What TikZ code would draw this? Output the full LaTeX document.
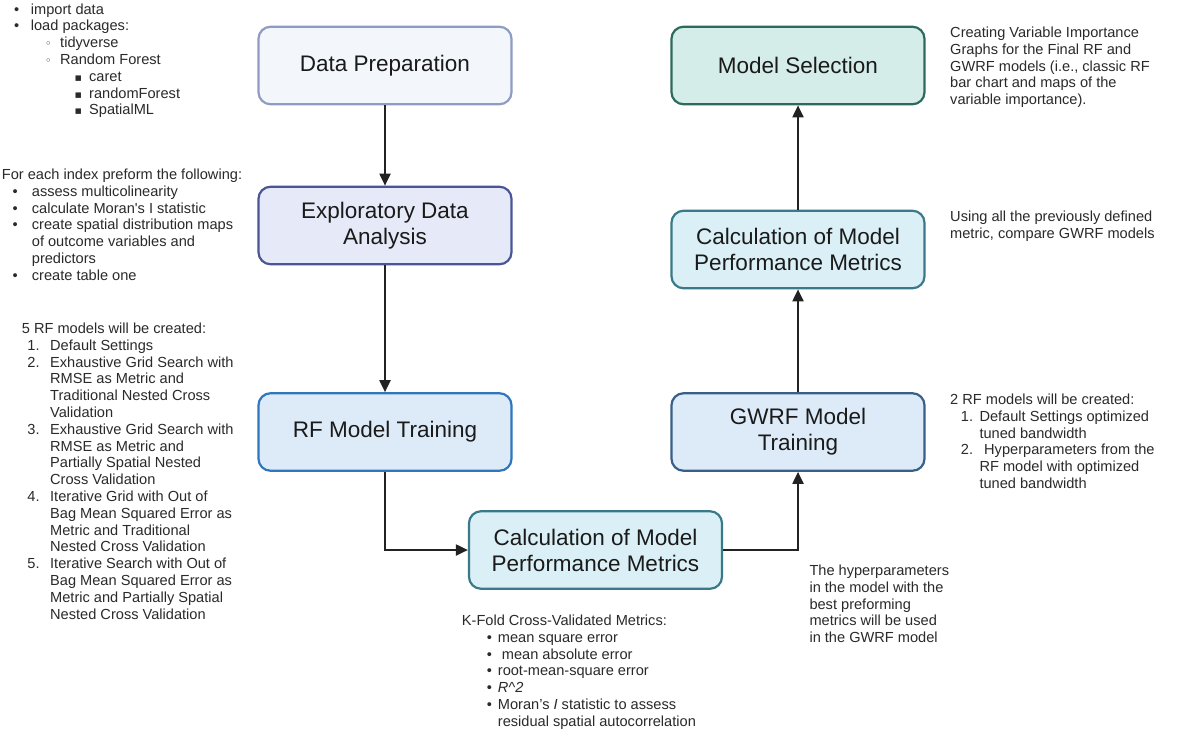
\documentclass[tikz,border=0pt]{standalone}
\usepackage{fontspec}
\setmainfont{Liberation Sans}
\newfontfamily\symfont{DejaVu Sans}
\usetikzlibrary{arrows.meta}
\definecolor{txt}{HTML}{2A2A2A}
\definecolor{boxtxt}{HTML}{1A1A1A}
\definecolor{arrowc}{HTML}{222222}
\definecolor{dpfill}{HTML}{F3F6FB}\definecolor{dpdraw}{HTML}{8E9CC4}
\definecolor{edafill}{HTML}{E6E9F8}\definecolor{edadraw}{HTML}{4A5597}
\definecolor{rffill}{HTML}{DDEBF8}\definecolor{rfdraw}{HTML}{2F76BC}
\definecolor{calcfill}{HTML}{DAF0F6}\definecolor{calcdraw}{HTML}{3A7A88}
\definecolor{gwfill}{HTML}{DDEBF8}\definecolor{gwdraw}{HTML}{375F88}
\definecolor{msfill}{HTML}{D4EDE8}\definecolor{msdraw}{HTML}{2D6A5D}
\newcommand\li[3]{\hspace*{#1pt}\makebox[\dimexpr#2pt-#1pt\relax][l]{#3}}
\newcommand\ct[1]{\hspace*{#1pt}}
\newcommand\dotb{\textbullet}
\newcommand\circb{{\symfont\fontsize{11}{11}\selectfont ◦}}
\newcommand\sqb{{\symfont\fontsize{11}{11}\selectfont ▪}}
\newcommand\fst{\rule{0pt}{12pt}}
\tikzset{
  note/.style={font=\fontsize{14.6}{16.8}\selectfont, text=txt, align=left, inner sep=0pt, anchor=north west, yshift=-1.5pt},
  box/.style={draw, line width=2.2pt, rounded corners=12pt, minimum width=253pt, minimum height=77.5pt,
    align=center, font=\fontsize{22.5}{26}\selectfont, text=boxtxt, inner sep=0pt},
  arr/.style={draw=arrowc, line width=2pt, -{Triangle[width=11pt,length=12pt]}}
}
\begin{document}
\begin{tikzpicture}[x=1pt,y=-1pt]
\fill[white] (0,0) rectangle (1190,732);
\useasboundingbox (0,0) rectangle (1190,732);

% boxes
\node[box, fill=dpfill, draw=dpdraw] (dp) at (385,65.5) {\raisebox{-1.5pt}{Data Preparation}};
\node[box, fill=edafill, draw=edadraw] (eda) at (385,225.5) {Exploratory Data\\Analysis};
\node[box, fill=rffill, draw=rfdraw] (rf) at (385,432) {\raisebox{-1.5pt}{RF Model Training}};
\node[box, fill=calcfill, draw=calcdraw] (calcm) at (595.5,550) {Calculation of Model\\Performance Metrics};
\node[box, fill=gwfill, draw=gwdraw] (gw) at (798,432) {GWRF Model\\Training};
\node[box, fill=calcfill, draw=calcdraw] (calcu) at (798,249.5) {Calculation of Model\\Performance Metrics};
\node[box, fill=msfill, draw=msdraw] (ms) at (798,65.5) {\raisebox{-1.5pt}{Model Selection}};

% connectors
\draw[arr] (dp) -- (eda);
\draw[arr] (eda) -- (rf);
\draw[arr] (rf.south) |- (calcm.west);
\draw[arr] (calcm.east) -| (gw.south);
\draw[arr] (gw) -- (calcu);
\draw[arr] (calcu) -- (ms);

% notes
\node[note] (n1) at (0,0.3) {\fst\li{14}{30.7}{\dotb}import data\\
\li{14}{30.7}{\dotb}load packages:\\
\li{45}{60}{\circb}tidyverse\\
\li{45}{60}{\circb}Random Forest\\
\li{74.5}{89}{\sqb}caret\\
\li{74.5}{89}{\sqb}randomForest\\
\li{74.5}{89}{\sqb}SpatialML};

\node[note] (n2) at (1.7,165.8) {\fst For each index preform the following:\\
\li{10.8}{30}{\dotb}assess multicolinearity\\
\li{10.8}{30}{\dotb}calculate Moran\textquotesingle s I statistic\\
\li{10.8}{30}{\dotb}create spatial distribution maps\\
\ct{30}of outcome variables and\\
\ct{30}predictors\\
\li{10.8}{30}{\dotb}create table one};

\node[note] (n3) at (21.7,319.8) {\fst 5 RF models will be created:\\
\li{5.6}{28.3}{1.}Default Settings\\
\li{5.6}{28.3}{2.}Exhaustive Grid Search with\\
\ct{28.3}RMSE as Metric and\\
\ct{28.3}Traditional Nested Cross\\
\ct{28.3}Validation\\
\li{5.6}{28.3}{3.}Exhaustive Grid Search with\\
\ct{28.3}RMSE as Metric and\\
\ct{28.3}Partially Spatial Nested\\
\ct{28.3}Cross Validation\\
\li{5.6}{28.3}{4.}Iterative Grid with Out of\\
\ct{28.3}Bag Mean Squared Error as\\
\ct{28.3}Metric and Traditional\\
\ct{28.3}Nested Cross Validation\\
\li{5.6}{28.3}{5.}Iterative Search with Out of\\
\ct{28.3}Bag Mean Squared Error as\\
\ct{28.3}Metric and Partially Spatial\\
\ct{28.3}Nested Cross Validation};

\node[note] (n4) at (461.7,611.8) {\fst K-Fold Cross-Validated Metrics:\\
\li{25}{36}{\dotb}mean square error\\
\li{25}{40}{\dotb}mean absolute error\\
\li{25}{36}{\dotb}root-mean-square error\\
\li{25}{36}{\dotb}\textit{R\textasciicircum 2}\\
\li{25}{36}{\dotb}Moran’s \textit{I} statistic to assess\\
\ct{36}residual spatial autocorrelation};

\node[note] (n5) at (950,23.8) {\fst Creating Variable Importance\\
Graphs for the Final RF and\\
GWRF models (i.e., classic RF\\
bar chart and maps of the\\
variable importance).};

\node[note] (n6) at (950,207.8) {\fst Using all the previously defined\\
metric, compare GWRF models};

\node[note] (n7) at (950,390.8) {\fst 2 RF models will be created:\\
\li{10.7}{29.3}{1.}Default Settings optimized\\
\ct{29.3}tuned bandwidth\\
\li{10.7}{34}{2.}Hyperparameters from the\\
\ct{29.3}RF model with optimized\\
\ct{29.3}tuned bandwidth};

\node[note] (n8) at (809.3,561.8) {\fst The hyperparameters\\
in the model with the\\
best preforming\\
metrics will be used\\
in the GWRF model};
\end{tikzpicture}
\end{document}
